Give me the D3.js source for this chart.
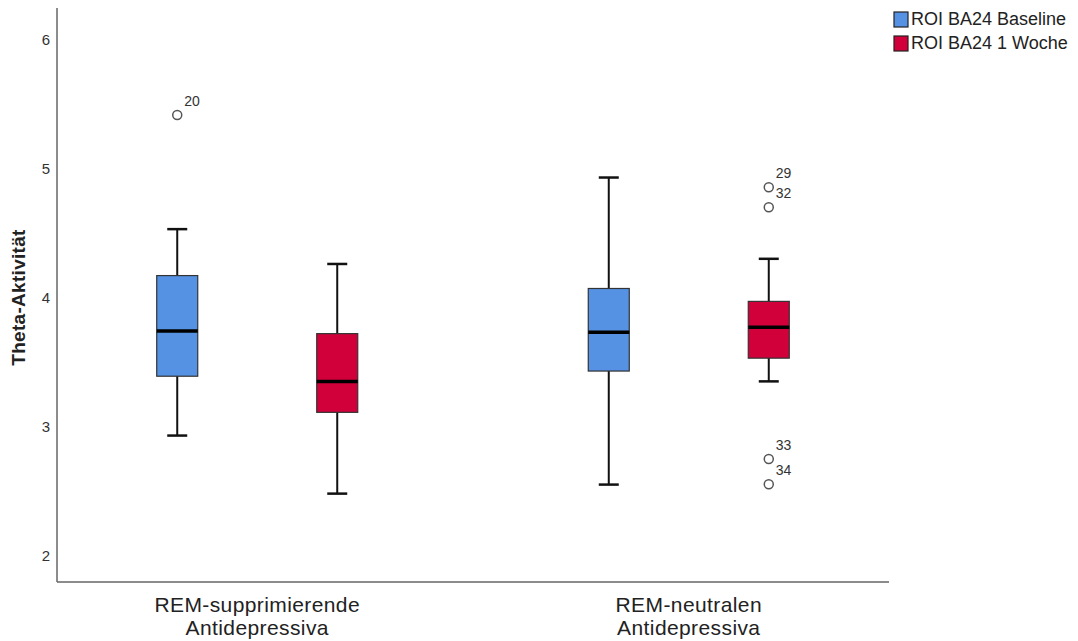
<!DOCTYPE html>
<html>
<head>
<meta charset="utf-8">
<script src="https://cdn.jsdelivr.net/npm/d3@7"></script>
<style>
  body { margin: 0; background: #fff; }
  svg { display: block; font-family: "Liberation Sans", Arial, sans-serif; }
</style>
</head>
<body>
<svg id="chart" width="1078" height="641"></svg>
<script>
const categories = ["REM-supprimierende Antidepressiva", "REM-neutralen Antidepressiva"];
const categoryLines = [["REM-supprimierende", "Antidepressiva"], ["REM-neutralen", "Antidepressiva"]];
const seriesNames = ["ROI BA24 Baseline", "ROI BA24 1 Woche"];
const seriesColors = ["#5592e4", "#d2003a"];
const yTicks = [2, 3, 4, 5, 6];

// [category][series]
const whiskerLow  = [[2.93, 2.48], [2.55, 3.35]];
const q1Values    = [[3.39, 3.11], [3.43, 3.53]];
const medianVals  = [[3.74, 3.35], [3.73, 3.77]];
const q3Values    = [[4.17, 3.72], [4.07, 3.97]];
const whiskerHigh = [[4.53, 4.26], [4.93, 4.30]];

const outlierCat    = [0, 1, 1, 1, 1];
const outlierSeries = [0, 1, 1, 1, 1];
const outlierValues = [5.415, 4.854, 4.699, 2.748, 2.552];
const outlierLabels = ["20", "29", "32", "33", "34"];

const svg = d3.select("#chart");
const mLeft = 57, mRight = 889, mTop = 8, mBottom = 582;

const y = d3.scaleLinear().domain([1.795, 6.244]).range([mBottom, mTop]);
const x = d3.scalePoint().domain(categories).range([mLeft, mRight]).padding(0.464);
const xs = d3.scaleBand().domain(seriesNames).range([-160, 160]);
const boxW = 41, capW = 20;

// axes
const yAxis = svg.append("g").attr("transform", `translate(${mLeft},0)`)
  .call(d3.axisLeft(y).tickValues(yTicks).tickSize(0).tickPadding(7).tickFormat(d3.format("d")));
yAxis.select(".domain").remove();
yAxis.selectAll("text").attr("font-size", 15).attr("fill", "#333").attr("font-family", "Liberation Sans, Arial, sans-serif");

svg.append("line").attr("x1", mLeft).attr("x2", mLeft).attr("y1", mTop).attr("y2", mBottom)
  .attr("stroke", "#666").attr("stroke-width", 1.5);
svg.append("line").attr("x1", mLeft).attr("x2", mRight).attr("y1", mBottom).attr("y2", mBottom)
  .attr("stroke", "#666").attr("stroke-width", 1.5);

// x labels
categories.forEach((c, i) => {
  const t = svg.append("text").attr("x", x(c)).attr("text-anchor", "middle")
    .attr("font-size", 21).attr("fill", "#222").attr("letter-spacing", 0.4);
  categoryLines[i].forEach((ln, j) => {
    t.append("tspan").attr("x", x(c)).attr("y", 612 + j * 23).text(ln);
  });
});

// y label
svg.append("text").attr("transform", `translate(25,${(y(2) + y(6)) / 2}) rotate(-90)`)
  .attr("text-anchor", "middle").attr("font-size", 19).attr("font-weight", "bold")
  .attr("fill", "#222").attr("letter-spacing", 0.3).text("Theta-Aktivität");

// boxes
categories.forEach((c, ci) => {
  seriesNames.forEach((s, si) => {
    const cx = x(c) + xs(s) + xs.bandwidth() / 2;
    const g = svg.append("g");
    g.append("line").attr("x1", cx).attr("x2", cx)
      .attr("y1", y(whiskerHigh[ci][si])).attr("y2", y(whiskerLow[ci][si]))
      .attr("stroke", "#111").attr("stroke-width", 2);
    [whiskerHigh[ci][si], whiskerLow[ci][si]].forEach(v => {
      g.append("line").attr("x1", cx - capW / 2).attr("x2", cx + capW / 2)
        .attr("y1", y(v)).attr("y2", y(v)).attr("stroke", "#111").attr("stroke-width", 2.5);
    });
    g.append("rect").attr("x", cx - boxW / 2).attr("width", boxW)
      .attr("y", y(q3Values[ci][si])).attr("height", y(q1Values[ci][si]) - y(q3Values[ci][si]))
      .attr("fill", seriesColors[si]).attr("stroke", "#333").attr("stroke-width", 1.2);
    g.append("line").attr("x1", cx - boxW / 2).attr("x2", cx + boxW / 2)
      .attr("y1", y(medianVals[ci][si])).attr("y2", y(medianVals[ci][si]))
      .attr("stroke", "#000").attr("stroke-width", 3.5);
  });
});

// outliers
outlierValues.forEach((v, i) => {
  const cx = x(categories[outlierCat[i]]) + xs(seriesNames[outlierSeries[i]]) + xs.bandwidth() / 2;
  const cy = y(v);
  svg.append("circle").attr("cx", cx).attr("cy", cy).attr("r", 4.5)
    .attr("fill", "#fff").attr("stroke", "#555").attr("stroke-width", 1.5);
  svg.append("text").attr("x", cx + 7).attr("y", cy - 9).attr("font-size", 14)
    .attr("fill", "#333").text(outlierLabels[i]);
});

// legend
seriesNames.forEach((s, i) => {
  const ly = 12 + i * 24;
  svg.append("rect").attr("x", 894).attr("y", ly).attr("width", 14).attr("height", 15)
    .attr("fill", seriesColors[i]).attr("stroke", "#222").attr("stroke-width", 1.2);
  svg.append("text").attr("x", 911).attr("y", ly + 13).attr("font-size", 18)
    .attr("fill", "#222").text(s);
});
</script>
</body>
</html>
